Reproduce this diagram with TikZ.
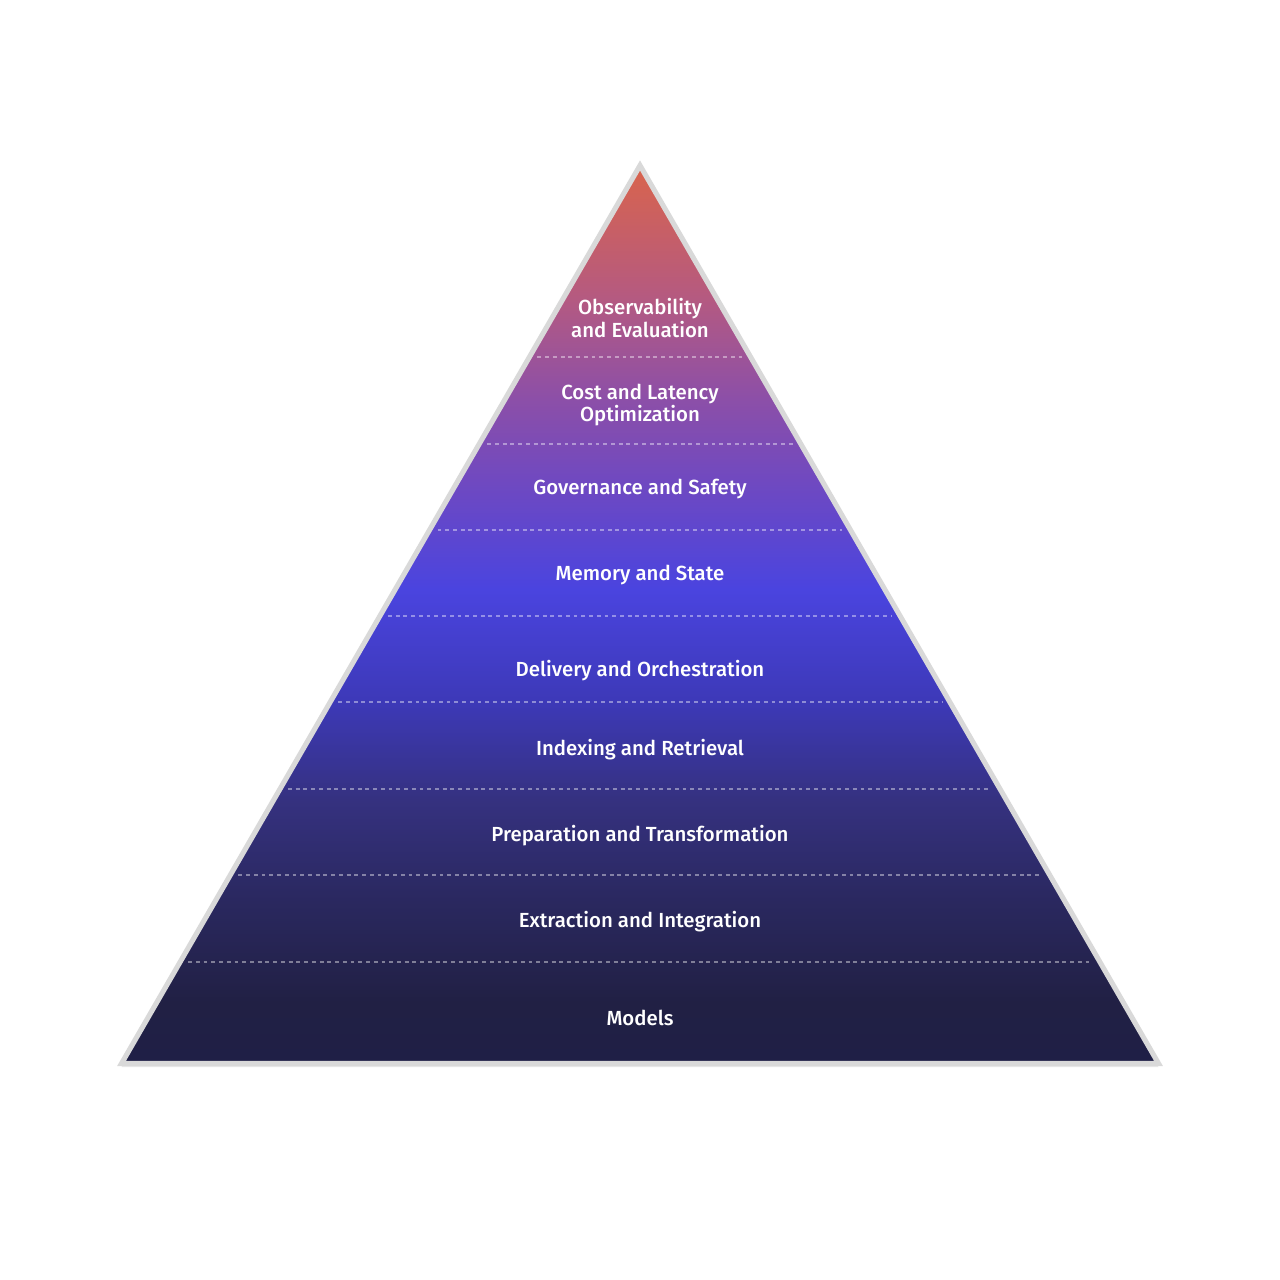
\documentclass[tikz,border=0pt]{standalone}
\usepackage{fontspec}
\setmainfont{Fira Sans}[UprightFont={* Medium}]
\usepackage{xcolor}
\usetikzlibrary{calc, shadows}

\definecolor{pyrtop}{HTML}{D9644C}
\definecolor{pyrrose}{HTML}{B55A80}
\definecolor{pyrplum}{HTML}{8C4FA8}
\definecolor{pyrviolet}{HTML}{7049C0}
\definecolor{pyrblue}{HTML}{4A44DF}
\definecolor{pyrindigo}{HTML}{3D39B8}
\definecolor{pyrdeep}{HTML}{35317F}
\definecolor{pyrnight}{HTML}{2A285F}
\definecolor{pyrnavy}{HTML}{212044}
\definecolor{pyrbottom}{HTML}{1F1F46}
\definecolor{pyrrim}{HTML}{D9D9D9}

\pgfdeclareverticalshading{pyramidfade}{100bp}{%
  color(0bp)=(pyrbottom); color(25bp)=(pyrbottom);
  color(28.4bp)=(pyrnavy); color(34bp)=(pyrnight);
  color(39.6bp)=(pyrdeep); color(45.2bp)=(pyrindigo);
  color(51.4bp)=(pyrblue); color(57.5bp)=(pyrviolet);
  color(62bp)=(pyrplum); color(67.7bp)=(pyrrose);
  color(75bp)=(pyrtop); color(100bp)=(pyrtop)}

\begin{document}
\begin{tikzpicture}[
    x=0.01cm, y=-0.01cm,
    layer/.style={text=white, align=center, font=\fontsize{5.8}{6.3}\selectfont},
    divider/.style={white, opacity=0.42, line width=0.45pt, dash pattern=on 1.1pt off 1.1pt}
]

\useasboundingbox (0,0) rectangle (1280,1280);

% Pyramid outline
\coordinate (apex) at (640,165.5);
\coordinate (left) at (121.5,1063.5);
\coordinate (right) at (1158.5,1063.5);

\path[drop shadow={opacity=0.18, shadow xshift=0pt, shadow yshift=-1pt}, shading=pyramidfade]
    (apex) -- (right) -- (left) -- cycle;
\draw[pyrrim, line width=1.45pt, line join=miter] (apex) -- (right) -- (left) -- cycle;

% Dividers between layers
\foreach \yy in {357,444,530,616,702,789,875,962} {
    \draw[divider] ($(apex)!{(\yy-165.5)/898}!(left) + (8,0)$) -- ($(apex)!{(\yy-165.5)/898}!(right) + (-8,0)$);
}

% Layer labels
\node[layer] (observe) at (640,318) {Observability\\and Evaluation};
\node[layer] (cost) at (640,405) {Cost and Latency\\Optimization};
\node[layer] (govern) at (640,489) {Governance and Safety};
\node[layer] (memory) at (640,575) {Memory and State};
\node[layer] (deliver) at (640,671) {Delivery and Orchestration};
\node[layer] (index) at (640,750) {Indexing and Retrieval};
\node[layer] (prep) at (640,836) {Preparation and Transformation};
\node[layer] (extract) at (640,922) {Extraction and Integration};
\node[layer] (models) at (640,1018) {Models};

\end{tikzpicture}
\end{document}
